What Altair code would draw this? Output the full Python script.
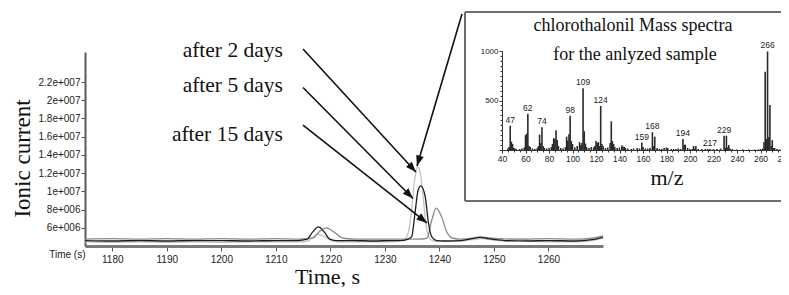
import altair as alt
import pandas as pd

# ---------------- chromatogram traces: time (s) / ionic current (x 1e6) ----------------
t_2d = [1175, 1180, 1185, 1190, 1195, 1200, 1205, 1210,
        1214, 1215.8, 1216.8, 1217.5, 1218.3, 1219.3, 1220.5, 1223,
        1227, 1231, 1233.5, 1234.3, 1234.9, 1235.4, 1235.95, 1236.5,
        1237, 1237.5, 1238, 1238.7, 1240, 1243, 1246, 1248,
        1250, 1253, 1255.4, 1257, 1260, 1265, 1268, 1270]
c_2d = [4.45, 4.4, 4.45, 4.4, 4.45, 4.4, 4.45, 4.45,
        4.45, 4.55, 4.95, 5.3, 5.2, 4.9, 4.55, 4.45,
        4.45, 4.45, 4.7, 5.5, 8.0, 11.0, 12.7, 12.0,
        9.5, 6.5, 5.0, 4.6, 4.5, 4.5, 4.7, 4.8,
        4.65, 4.5, 4.8, 4.5, 4.45, 4.45, 4.6, 4.9]

t_5d = [1175, 1180, 1185, 1190, 1195, 1200, 1205, 1210,
        1214, 1215.7, 1216.7, 1217.8, 1218.8, 1219.9, 1221, 1224,
        1228, 1231, 1233, 1234, 1234.9, 1235.5, 1236.1, 1236.6,
        1237.4, 1238, 1238.6, 1239.5, 1241, 1244, 1246, 1247.5,
        1249, 1252, 1256, 1260, 1265, 1268, 1270]
c_5d = [4.6, 4.55, 4.6, 4.55, 4.6, 4.6, 4.55, 4.6,
        4.6, 4.75, 5.5, 6.1, 5.6, 4.75, 4.6, 4.6,
        4.55, 4.6, 4.6, 4.7, 5.0, 7.5, 10.15, 10.6,
        9.4, 6.5, 5.0, 4.6, 4.55, 4.6, 4.8, 4.95,
        4.8, 4.6, 4.55, 4.6, 4.55, 4.7, 4.95]

t_15d = [1175, 1180, 1185, 1190, 1195, 1200, 1205, 1210,
         1214, 1216.9, 1218, 1219.3, 1220.5, 1222.4, 1225, 1229,
         1233, 1236, 1237.7, 1238.6, 1239.4, 1240.4, 1241.3, 1242.5,
         1244, 1246, 1247.5, 1249, 1251, 1255, 1260, 1265,
         1268, 1270]
c_15d = [4.75, 4.8, 4.75, 4.8, 4.75, 4.8, 4.75, 4.8,
         4.75, 4.9, 5.6, 6.0, 5.6, 4.85, 4.75, 4.75,
         4.75, 4.75, 4.85, 6.85, 8.15, 7.2, 5.6, 4.85,
         4.75, 4.85, 5.0, 4.9, 4.8, 4.75, 4.8, 4.75,
         4.85, 5.1]

series_names = ["after 2 days", "after 15 days", "after 5 days"]
series_colors = ["#c2c2c2", "#8a8a8a", "#1c1c1c"]

x_tick_values = [1175, 1180, 1190, 1200, 1210, 1220, 1230, 1240, 1250, 1260]
y_tick_values = [6e6, 8e6, 1e7, 1.2e7, 1.4e7, 1.6e7, 1.8e7, 2e7, 2.2e7]

# annotation labels (anchor = right end of text, baseline)
ann_text = ["after 2 days", "after 5 days", "after 15 days"]
ann_time = [1211.3, 1211.3, 1211.3]
ann_current = [24.75, 20.91, 15.53]

# arrows: start -> tip, in chart units
arr_t0 = [1214.98, 1214.98, 1214.98, 1244.14]
arr_c0 = [25.63, 21.40, 17.28, 29.47]
arr_t1 = [1235.70, 1235.15, 1237.72, 1235.89]
arr_c1 = [12.12, 9.21, 6.53, 12.78]
arr_angle = [137.4, 135.3, 128.3, 196.5]

# ---------------- inset mass spectrum: m/z / intensity ----------------
ms_mz = [45, 46, 47, 48, 49, 50, 51, 52, 55, 57,
         59, 60, 61, 62, 63, 64, 66, 68, 70, 71,
         72, 73, 74, 75, 76, 78, 80, 82, 83, 84,
         85, 86, 87, 88, 90, 92, 94, 95, 96, 97,
         98, 99, 100, 102, 104, 106, 107, 108, 109, 110,
         111, 112, 114, 116, 118, 119, 120, 121, 122, 123,
         124, 125, 126, 128, 130, 132, 133, 134, 135, 136,
         138, 140, 142, 143, 144, 145, 147, 150, 152, 155,
         157, 159, 160, 162, 164, 166, 168, 169, 170, 172,
         174, 176, 178, 180, 181, 184, 186, 188, 190, 192,
         194, 195, 196, 198, 200, 202, 203, 204, 205, 207,
         210, 213, 215, 217, 220, 223, 226, 229, 230, 231,
         232, 233, 234, 236, 240, 245, 250, 255, 258, 260,
         262, 263, 264, 265, 266, 267, 268, 269, 270, 271,
         272, 274, 276, 278]
ms_int = [15, 30, 245, 85, 60, 20, 15, 10, 10, 15,
          25, 150, 165, 365, 40, 30, 15, 10, 20, 40,
          155, 70, 230, 40, 20, 15, 20, 30, 60, 120,
          110, 200, 100, 40, 20, 15, 30, 135, 95, 160,
          345, 90, 60, 25, 40, 80, 50, 70, 625, 190,
          65, 30, 20, 30, 25, 40, 90, 70, 80, 40,
          445, 60, 40, 20, 25, 70, 290, 90, 60, 30,
          20, 25, 45, 35, 30, 20, 15, 10, 15, 20,
          15, 75, 30, 15, 15, 20, 180, 40, 135, 20,
          10, 10, 20, 25, 20, 10, 10, 10, 15, 10,
          110, 50, 55, 20, 10, 10, 40, 15, 40, 10,
          10, 10, 10, 10, 10, 10, 15, 145, 20, 145,
          25, 50, 15, 10, 5, 5, 5, 5, 5, 10,
          15, 80, 790, 110, 995, 130, 455, 40, 100, 20,
          20, 10, 5, 5]

peak_label_mz = [47, 62, 74, 98, 109, 124, 159, 168, 194, 217, 229, 266]
peak_label_int = [245, 365, 230, 345, 625, 445, 75, 180, 110, 10, 145, 995]

inset_text = ["chlorothalonil Mass spectra", "for the anlyzed sample", "m/z"]
inset_text_mz = [151.5, 153.2, 180.4]
inset_text_int = [1207, 909, -354]
inset_text_size = [18, 18, 22]

# inset frame (left, right in m/z units; bottom, top in intensity units)
inset_box_mz = [8.5, 300]
inset_box_int = [-515, 1394]

mz_tick_values = list(range(40, 285, 5))
int_tick_values = list(range(0, 1050, 50))

# ---------------- tables ----------------
rows = []
for name, ts, cs in [("after 2 days", t_2d, c_2d),
                     ("after 15 days", t_15d, c_15d),
                     ("after 5 days", t_5d, c_5d)]:
    for t, c in zip(ts, cs):
        rows.append({"series": name, "time": t, "current": c * 1e6})
traces = pd.DataFrame(rows)

ann_df = pd.DataFrame({"label": ann_text, "time": ann_time,
                       "current": [c * 1e6 for c in ann_current]})
arr_df = pd.DataFrame({"time": arr_t0, "current": [c * 1e6 for c in arr_c0],
                       "time2": arr_t1, "current2": [c * 1e6 for c in arr_c1]})
head_df = pd.DataFrame({"time": arr_t1, "current": [c * 1e6 for c in arr_c1],
                        "angle": arr_angle})

ms_df = pd.DataFrame({"mz": ms_mz, "intensity": ms_int, "intensity2": [0] * len(ms_mz)})
lab_df = pd.DataFrame({"mz": peak_label_mz, "intensity": peak_label_int,
                       "label": [str(m) for m in peak_label_mz]})
itxt_df = pd.DataFrame({"mz": inset_text_mz, "intensity": inset_text_int,
                        "label": inset_text, "fs": inset_text_size})
bl, br = inset_box_mz
bb, bt = inset_box_int
box_df = pd.DataFrame({"mz": [bl], "mz2": [br], "intensity": [bb], "intensity2": [bt]})
edge_df = pd.DataFrame({"mz": [bl, bl, bl], "mz2": [br, bl, br],
                        "intensity": [bt, bb, bb], "intensity2": [bt, bt, bb]})

SERIF = "Liberation Serif"
SANS = "Liberation Sans Narrow, Arial Narrow, Liberation Sans"

W, H = 518, 194

# ---------------- main chromatogram ----------------
x_main = alt.Scale(domain=[1175, 1270], nice=False, zero=False)
y_main = alt.Scale(domain=[4.0e6, 25.3e6], nice=False, zero=False)

x_axis = alt.Axis(
    values=x_tick_values, format="d", grid=False,
    labelExpr="datum.value == 1175 ? 'Time (s)' : datum.label",
    labelAlign={"condition": {"test": "datum.value == 1175", "value": "right"}, "value": "center"},
    tickSize={"condition": {"test": "datum.value == 1175", "value": 0}, "value": 5},
    labelFont=SANS, labelFontSize=10, labelColor="#222", labelPadding=3,
    tickColor="#555", domainColor="#7a7a7a", domainWidth=3,
    title="Time, s", titleFont=SERIF, titleFontSize=22, titleFontWeight="normal",
    titleColor="#111", titleX=242, titleY=37, titleAnchor="start", titleAlign="center",
    titleBaseline="alphabetic", labelFlush=False, labelOverlap=False,
)
y_axis = alt.Axis(
    values=y_tick_values, grid=False,
    labelExpr="replace(format(datum.value, '.2~e'), 'e+', 'e+00')",
    labelFont=SANS, labelFontSize=10, labelColor="#222", labelPadding=1,
    tickSize=4, tickColor="#555", domainColor="#5a5a5a", domainWidth=2,
    title="Ionic current", titleFont=SERIF, titleFontSize=23, titleFontWeight="normal",
    titleColor="#111", titleAngle=270, titleX=-56, titleY=106, titleAlign="center",
    titleBaseline="alphabetic", labelOverlap=False, labelFlush=False,
)

lines = alt.Chart(traces).mark_line(strokeWidth=1.3, interpolate="monotone").encode(
    x=alt.X("time:Q", scale=x_main, axis=x_axis),
    y=alt.Y("current:Q", scale=y_main, axis=y_axis),
    color=alt.Color("series:N", scale=alt.Scale(domain=series_names, range=series_colors), legend=None),
    order=alt.Order("series:N"),
    detail="series:N",
)

arrows = alt.Chart(arr_df).mark_rule(color="#111", strokeWidth=1.6).encode(
    x=alt.X("time:Q", scale=x_main, axis=x_axis), y=alt.Y("current:Q", scale=y_main, axis=y_axis),
    x2="time2:Q", y2="current2:Q",
)

heads = alt.Chart(head_df).mark_point(
    shape="M0,0L-0.75,2L0.75,2Z", filled=True, color="#111", opacity=1, size=110,
).encode(
    x=alt.X("time:Q", scale=x_main, axis=x_axis), y=alt.Y("current:Q", scale=y_main, axis=y_axis),
    angle=alt.Angle("angle:Q", scale=None),
)

ann = alt.Chart(ann_df).mark_text(
    align="right", baseline="alphabetic", font=SERIF, fontSize=21.5, color="#111",
).encode(
    x=alt.X("time:Q", scale=x_main, axis=x_axis), y=alt.Y("current:Q", scale=y_main, axis=y_axis),
    text="label:N",
)

main = alt.layer(lines, arrows, heads, ann)

# ---------------- inset spectrum ----------------
x_ins = alt.Scale(domain=[40, 280], range=[417, 699], nice=False, zero=False)
y_ins = alt.Scale(domain=[0, 1000], range=[98, -1], nice=False, zero=False)

x_ins_axis = alt.Axis(
    orient="bottom", offset=-96, values=mz_tick_values, grid=False, title=None,
    labelExpr="datum.value % 20 == 0 ? datum.label : ''",
    tickSize={"condition": {"test": "datum.value % 20 == 0", "value": 3}, "value": 2},
    labelFont=SANS, labelFontSize=8.5, labelColor="#222", labelPadding=1,
    tickColor="#333", domainColor="#333", domainWidth=1, labelOverlap=False,
    labelFlush=False, zindex=1,
)
y_ins_axis = alt.Axis(
    orient="left", offset=-417, values=int_tick_values, grid=False, title=None,
    labelExpr="datum.value == 500 || datum.value == 1000 ? datum.label : ''",
    tickSize={"condition": {"test": "datum.value % 500 == 0", "value": 3}, "value": 2},
    labelFont=SANS, labelFontSize=8, labelColor="#222", labelPadding=1,
    tickColor="#333", domainColor="#333", domainWidth=1, labelOverlap=False,
    labelFlush=False, zindex=1, format="d",
)

box = alt.Chart(box_df).mark_rect(fill="white", strokeWidth=0).encode(
    x=alt.X("mz:Q", scale=x_ins, axis=x_ins_axis),
    x2="mz2:Q",
    y=alt.Y("intensity:Q", scale=y_ins, axis=y_ins_axis),
    y2="intensity2:Q",
)

edges = alt.Chart(edge_df).mark_rule(color="#6e6e6e", strokeWidth=2).encode(
    x=alt.X("mz:Q", scale=x_ins, axis=x_ins_axis),
    x2="mz2:Q",
    y=alt.Y("intensity:Q", scale=y_ins, axis=y_ins_axis),
    y2="intensity2:Q",
)

bars = alt.Chart(ms_df).mark_rule(color="#2a2a2a", strokeWidth=1.6).encode(
    x=alt.X("mz:Q", scale=x_ins, axis=x_ins_axis),
    y=alt.Y("intensity:Q", scale=y_ins, axis=y_ins_axis), y2="intensity2:Q",
)

plabels = alt.Chart(lab_df).mark_text(
    font=SANS, fontSize=8.5, dy=-3, baseline="alphabetic", color="#222",
).encode(
    x=alt.X("mz:Q", scale=x_ins, axis=x_ins_axis),
    y=alt.Y("intensity:Q", scale=y_ins, axis=y_ins_axis), text="label:N",
)

itxt = alt.Chart(itxt_df).mark_text(
    font=SERIF, align="center", baseline="alphabetic", color="#111",
).encode(
    x=alt.X("mz:Q", scale=x_ins, axis=x_ins_axis),
    y=alt.Y("intensity:Q", scale=y_ins, axis=y_ins_axis), text="label:N",
    size=alt.Size("fs:Q", scale=None),
)

inset = alt.layer(box, edges, bars, plabels, itxt)

chart = alt.layer(main, inset).resolve_scale(
    x="independent", y="independent"
).properties(
    width=W, height=H,
    padding={"left": 77, "top": 44, "right": 178, "bottom": 41},
    autosize=alt.AutoSizeParams(type="none"),
    background="white",
).configure_view(stroke=None).configure_axis(labelOverlap=False)

chart.save("out.html", embed_options={"renderer": "svg", "actions": False})
